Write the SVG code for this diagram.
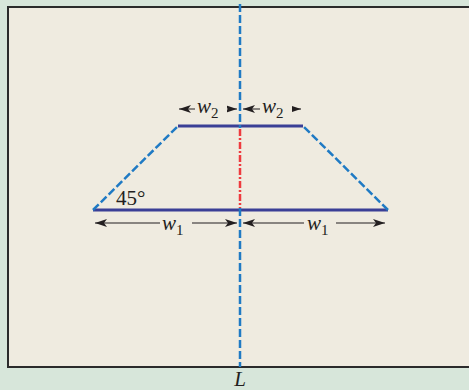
<svg xmlns="http://www.w3.org/2000/svg" width="469" height="390" viewBox="0 0 469 390">
<defs>
<marker id="ah" viewBox="0 0 12 8" refX="12" refY="4" markerWidth="12" markerHeight="8" orient="auto-start-reverse" markerUnits="userSpaceOnUse">
<path d="M0,0 L12,4 L0,8 L3,4 Z" fill="#231f20"/>
</marker>
</defs>
<style>
.solid{stroke:#3a3f96;stroke-width:3;fill:none}
.dash{stroke:#1f7ac4;stroke-width:2.5;fill:none;stroke-dasharray:8 3}
.axis{stroke:#ee3a3f;stroke-width:2.5;fill:none;stroke-dasharray:7 2 2 2}
.dim{stroke:#231f20;stroke-width:1.2;fill:none;marker-start:url(#ah);marker-end:url(#ah)}
.lbl{font-family:"Liberation Serif",serif;font-size:21px;fill:#231f20}
.it{font-style:italic}
.sub{font-size:15px}
</style>
<rect x="0" y="0" width="469" height="390" fill="#d7e6da"/>
<rect x="8" y="7" width="470" height="360" fill="#efebe0" stroke="#2b2b2b" stroke-width="2"/>
<g id="trapezoid">
<line class="solid" x1="178" y1="126" x2="303" y2="126"/>
<line class="solid" x1="93" y1="210" x2="388" y2="210"/>
<line class="dash" x1="93" y1="210" x2="178" y2="126"/>
<line class="dash" x1="388" y1="210" x2="303" y2="126"/>
</g>
<g id="connectors">
<line class="dash" x1="240" y1="4" x2="240" y2="128"/>
<line class="dash" x1="240" y1="208" x2="240" y2="367"/>
<line class="dim" x1="95" y1="223" x2="237" y2="223"/>
<line class="dim" x1="243" y1="223" x2="385" y2="223"/>
<line class="dim" x1="179" y1="109" x2="237" y2="109"/>
<line class="dim" x1="243" y1="109" x2="301" y2="109"/>
</g>
<g id="axisL">
<line class="axis" x1="240" y1="129" x2="240" y2="208"/>
</g>
<g id="labels">
<rect x="160" y="213" width="32" height="22" fill="#efebe0"/>
<rect x="304" y="213" width="32" height="22" fill="#efebe0"/>
<rect x="195" y="98" width="32" height="22" fill="#efebe0"/>
<rect x="260" y="98" width="32" height="22" fill="#efebe0"/>
<text class="lbl" x="116" y="205">45°</text>
<text class="lbl it" x="162" y="230">w<tspan class="sub" dy="5" font-style="normal">1</tspan></text>
<text class="lbl it" x="307" y="230">w<tspan class="sub" dy="5" font-style="normal">1</tspan></text>
<text class="lbl it" x="197" y="113">w<tspan class="sub" dy="5" font-style="normal">2</tspan></text>
<text class="lbl it" x="262" y="113">w<tspan class="sub" dy="5" font-style="normal">2</tspan></text>
<text class="lbl it" x="240" y="386" text-anchor="middle">L</text>
</g>
</svg>
